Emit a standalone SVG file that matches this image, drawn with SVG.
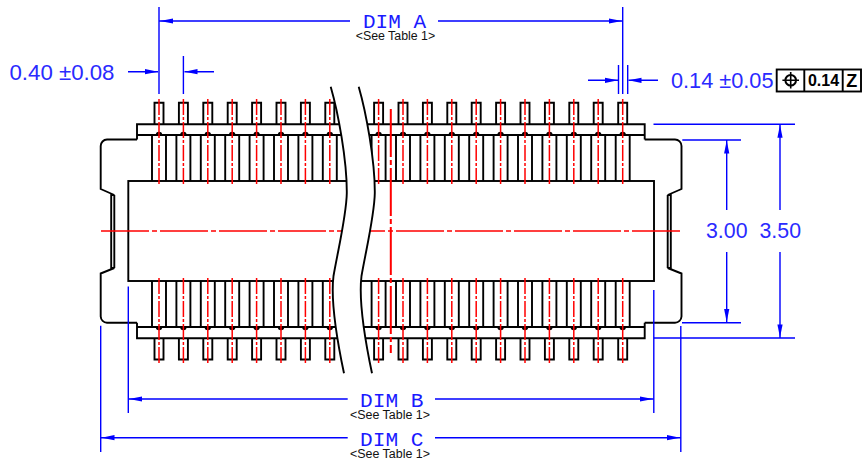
<svg xmlns="http://www.w3.org/2000/svg" width="866" height="462" viewBox="0 0 866 462">
<style>
.k{fill:none;stroke:#000;stroke-width:1.9}
.c{fill:none;stroke:#f00;stroke-width:1.5;stroke-dasharray:16 2 3 2}
.b{fill:none;stroke:#00f;stroke-width:1.4}
.a{fill:#00f;stroke:none}
.d{font-family:"Liberation Sans",Arial,sans-serif;font-size:22px;fill:#2a2aff}
.m{font-family:"Liberation Mono","Courier New",monospace;font-size:21px;fill:#1a1aff}
.s{font-family:"Liberation Sans",Arial,sans-serif;font-size:12px;fill:#111}
.f{font-family:"Liberation Sans",Arial,sans-serif;fill:#000;text-anchor:middle}
</style>
<defs>
<g id="pt">
<path class="k" d="M-4.5 124V102.7H4.5V124M-7 135V181M7 135V181"/>
<path d="M-3.2 135A3.2 3.2 0 0 1 3.2 135Z" fill="#000"/>
</g>
<g id="pb">
<path class="k" d="M-4.5 338V359.5H4.5V338M-7 281V327M7 281V327"/>
<path d="M-3.2 327A3.2 3.2 0 0 0 3.2 327Z" fill="#000"/>
</g>
<path id="cl" class="c" d="M0 99V184"/>
<path id="cb" class="c" d="M0 278V363"/>
<path id="ar" class="a" d="M0 0L-13 -2.6V2.6Z"/>
</defs>

<g id="body">
<path class="k" d="M137 139.5V124.3H644.7V139.5M137 135H644.7"/>
<path class="k" d="M137 322.7V338.3H644.7V322.7M137 327H644.7"/>
<path class="k" d="M137 139.5H107A6.5 6.5 0 0 0 100.7 146V189L114.3 195H111.2V268H114.3L100.7 273.5V316.5A6.5 6.5 0 0 0 107 322.7H137"/>
<path class="k" d="M114.3 195V268"/>
<path class="k" d="M644.7 139.5H675A6.5 6.5 0 0 1 681.5 146V189L667.7 195H670.8V268H667.7L681.5 273.5V316.5A6.5 6.5 0 0 1 675 322.7H644.7"/>
<path class="k" d="M667.7 195V268"/>
<rect class="k" x="128.3" y="181" width="525.7" height="100"/>
</g>

<g id="pins-top">
<use href="#pt" x="159"/><use href="#pt" x="183.4"/><use href="#pt" x="207.8"/><use href="#pt" x="232.2"/><use href="#pt" x="256.6"/><use href="#pt" x="281"/><use href="#pt" x="305.4"/><use href="#pt" x="329.8"/>
<use href="#pt" x="378.6"/><use href="#pt" x="403"/><use href="#pt" x="427.4"/><use href="#pt" x="451.8"/><use href="#pt" x="476.2"/><use href="#pt" x="500.6"/><use href="#pt" x="525"/><use href="#pt" x="549.4"/><use href="#pt" x="573.8"/><use href="#pt" x="598.2"/><use href="#pt" x="622.7"/>
</g>
<g id="pins-bottom">
<use href="#pb" x="159"/><use href="#pb" x="183.4"/><use href="#pb" x="207.8"/><use href="#pb" x="232.2"/><use href="#pb" x="256.6"/><use href="#pb" x="281"/><use href="#pb" x="305.4"/><use href="#pb" x="329.8"/>
<use href="#pb" x="378.6"/><use href="#pb" x="403"/><use href="#pb" x="427.4"/><use href="#pb" x="451.8"/><use href="#pb" x="476.2"/><use href="#pb" x="500.6"/><use href="#pb" x="525"/><use href="#pb" x="549.4"/><use href="#pb" x="573.8"/><use href="#pb" x="598.2"/><use href="#pb" x="622.7"/>
</g>
<g id="centerlines">
<use href="#cl" x="159"/><use href="#cl" x="183.4"/><use href="#cl" x="207.8"/><use href="#cl" x="232.2"/><use href="#cl" x="256.6"/><use href="#cl" x="281"/><use href="#cl" x="305.4"/><use href="#cl" x="329.8"/>
<use href="#cl" x="378.6"/><use href="#cl" x="403"/><use href="#cl" x="427.4"/><use href="#cl" x="451.8"/><use href="#cl" x="476.2"/><use href="#cl" x="500.6"/><use href="#cl" x="525"/><use href="#cl" x="549.4"/><use href="#cl" x="573.8"/><use href="#cl" x="598.2"/><use href="#cl" x="622.7"/>
<use href="#cb" x="159"/><use href="#cb" x="183.4"/><use href="#cb" x="207.8"/><use href="#cb" x="232.2"/><use href="#cb" x="256.6"/><use href="#cb" x="281"/><use href="#cb" x="305.4"/><use href="#cb" x="329.8"/>
<use href="#cb" x="378.6"/><use href="#cb" x="403"/><use href="#cb" x="427.4"/><use href="#cb" x="451.8"/><use href="#cb" x="476.2"/><use href="#cb" x="500.6"/><use href="#cb" x="525"/><use href="#cb" x="549.4"/><use href="#cb" x="573.8"/><use href="#cb" x="598.2"/><use href="#cb" x="622.7"/>
<path class="c" d="M101 231H680" style="stroke-dasharray:48 3 5 3"/>
<path class="c" d="M390.8 109V353" style="stroke-width:2;stroke-dasharray:48 3 5 3"/>
</g>

<g id="break">
<path fill="#fff" stroke="none" d="M330.7 86.7C338 112 347 160 346.8 193C346.5 215 338 250 333.5 276C330.5 300 337 340 344 373.3H372C365 340 358.5 300 361.5 276C366 250 374.5 215 374.8 193C375 160 366 112 358.7 86.7Z"/>
<path class="k" d="M330.7 86.7C338 112 347 160 346.8 193C346.5 215 338 250 333.5 276C330.5 300 337 340 344 373.3"/>
<path class="k" d="M358.7 86.7C366 112 375 160 374.8 193C374.5 215 366 250 361.5 276C358.5 300 365 340 372 373.3"/>
</g>

<g id="connectors">
<path class="b" d="M159 7V94M183.4 56V94M622.7 7V94M618.5 65V94M627.7 65V94"/>
<path class="b" d="M159 21H350M438 21H622.7"/>
<use href="#ar" transform="translate(160 21) rotate(180)"/>
<use href="#ar" transform="translate(622 21)"/>
<path class="b" d="M128 71.7H158M184.5 71.7H214"/>
<use href="#ar" transform="translate(158 71.7)"/>
<use href="#ar" transform="translate(184.5 71.7) rotate(180)"/>
<path class="b" d="M588 80.3H618M628.5 80.3H658"/>
<use href="#ar" transform="translate(618 80.3)"/>
<use href="#ar" transform="translate(628.5 80.3) rotate(180)"/>
<path class="b" d="M653.5 124.3H795M654 338H795M682.3 140H741M682 322.7H741"/>
<path class="b" d="M726.7 140V210M726.7 252V322.7M780 124.3V210M780 252V338"/>
<use href="#ar" transform="translate(726.7 140.5) rotate(-90)"/>
<use href="#ar" transform="translate(726.7 322) rotate(90)"/>
<use href="#ar" transform="translate(780 124.8) rotate(-90)"/>
<use href="#ar" transform="translate(780 337.5) rotate(90)"/>
<path class="b" d="M128.3 286.5V413M100.7 325.7V452M653.8 290V413M680.8 326V452"/>
<path class="b" d="M128.3 399H347.7M435 399H653.8M100.7 437.7H347.7M435 437.7H680.8"/>
<use href="#ar" transform="translate(129 399) rotate(180)"/>
<use href="#ar" transform="translate(653 399)"/>
<use href="#ar" transform="translate(101.5 437.7) rotate(180)"/>
<use href="#ar" transform="translate(680 437.7)"/>
</g>

<g id="labels">
<text class="m" x="363" y="28.3" textLength="63" lengthAdjust="spacingAndGlyphs">DIM A</text>
<text class="s" x="355.7" y="40" textLength="79.5" lengthAdjust="spacingAndGlyphs">&lt;See Table 1&gt;</text>
<text class="m" x="360" y="406.7" textLength="63.5" lengthAdjust="spacingAndGlyphs">DIM B</text>
<text class="s" x="350" y="419.3" textLength="80" lengthAdjust="spacingAndGlyphs">&lt;See Table 1&gt;</text>
<text class="m" x="360" y="445.7" textLength="63.5" lengthAdjust="spacingAndGlyphs">DIM C</text>
<text class="s" x="350" y="458.3" textLength="80" lengthAdjust="spacingAndGlyphs">&lt;See Table 1&gt;</text>
<text class="d" x="9.5" y="80" textLength="105" lengthAdjust="spacingAndGlyphs">0.40 ±0.08</text>
<text class="d" x="671" y="88.3" textLength="102.5" lengthAdjust="spacingAndGlyphs">0.14 ±0.05</text>
<text class="d" x="706" y="238" textLength="41.5" lengthAdjust="spacingAndGlyphs">3.00</text>
<text class="d" x="759.5" y="238" textLength="41.5" lengthAdjust="spacingAndGlyphs">3.50</text>
</g>

<g id="tolerance-frame">
<rect x="776.7" y="69.5" width="84.3" height="22" fill="#fff" stroke="#000" stroke-width="1.9"/>
<path d="M804.3 69.5V91.5M842.7 69.5V91.5" fill="none" stroke="#000" stroke-width="1.9"/>
<circle cx="790.7" cy="80.3" r="5.3" fill="none" stroke="#000" stroke-width="2"/>
<path d="M790.7 72V88.6M782.4 80.3H799" fill="none" stroke="#000" stroke-width="1.6"/>
<text class="f" x="823.5" y="86.2" font-size="16" font-weight="700">0.14</text>
<text class="f" x="851.8" y="87" font-size="18" font-weight="700">Z</text>
</g>
</svg>
